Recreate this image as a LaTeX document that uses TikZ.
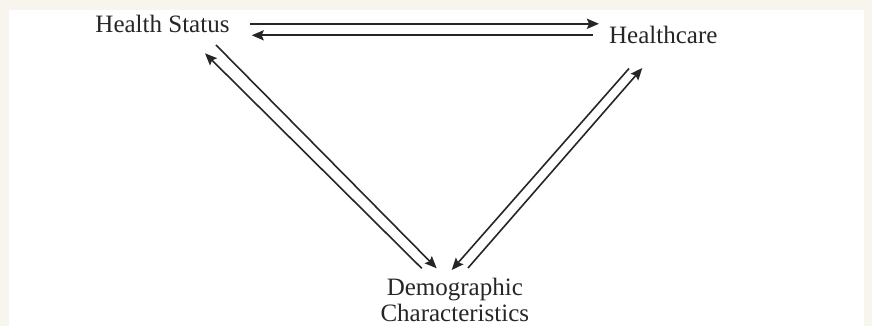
\documentclass[tikz,border=0pt]{standalone}
\usepackage{fontspec}
\setmainfont{Liberation Serif}
\usepackage{tikz}
\usetikzlibrary{arrows.meta}
\definecolor{pagecream}{RGB}{248,245,238}
\definecolor{inkgray}{RGB}{38,38,38}

\begin{document}
\begin{tikzpicture}[x=1pt, y=1pt,
    term/.style={font=\fontsize{25}{26}\selectfont, text=inkgray, inner sep=0pt, align=center},
    flow/.style={draw=inkgray, line width=1.6pt, -{Stealth[length=12pt, width=10pt, inset=2pt]}},
    flowthick/.style={flow, line width=2.3pt}]
  % page and panel
  \fill[pagecream] (0,0) rectangle (872,326);
  \fill[white] (9,0) rectangle (864,316);
  \useasboundingbox (0,0) rectangle (872,326);
  % the three terms
  \node[term, anchor=base] (health) at (162.5,293) {Health Status};
  \node[term, anchor=base] (care) at (663.3,282.7) {Healthcare};
  \node[term, anchor=north] (demo) at (454.8,48.5) {Demographic\\Characteristics};
  % health status <-> healthcare
  \draw[flowthick] ([shift={(87.5,9.2)}]health.base) -- ([shift={(-64.3,19.5)}]care.base);
  \draw[flowthick] ([shift={(-70.3,8)}]care.base) -- ([shift={(89.2,-2.3)}]health.base);
  % health status <-> demographics
  \draw[flow] ([shift={(53.5,-12)}]health.base) -- ([shift={(-18.1,9.2)}]demo.north);
  \draw[flow] ([shift={(-33.1,9.2)}]demo.north) -- ([shift={(42.5,-20.3)}]health.base);
  % healthcare <-> demographics
  \draw[flow] ([shift={(13.2,9.5)}]demo.north) -- ([shift={(-21,-24.7)}]care.base);
  \draw[flow] ([shift={(-34.3,-25.2)}]care.base) -- ([shift={(-3.1,7.5)}]demo.north);
\end{tikzpicture}
\end{document}
